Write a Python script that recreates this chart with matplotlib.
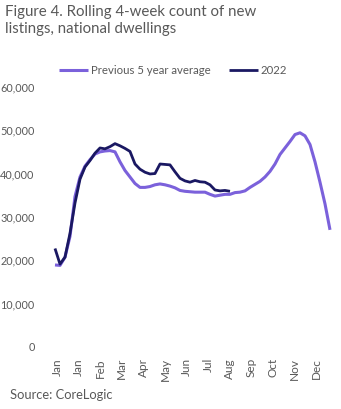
import numpy as np
import matplotlib.pyplot as plt

plt.rcParams['font.family'] = ['Lato', 'DejaVu Sans']

# weekly series (thousands of listings)
weeks_avg = np.arange(56)
avg_5yr = [18.7, 18.6, 20.5, 25.3, 34.5, 39.0, 41.5, 43.0, 44.3, 44.8,
           45.0, 45.1, 44.8, 42.5, 40.5, 39.0, 37.5, 36.6, 36.6, 36.8,
           37.2, 37.4, 37.2, 36.9, 36.5, 35.9, 35.7, 35.6, 35.5, 35.5,
           35.5, 35.0, 34.6, 34.8, 35.0, 35.0, 35.4, 35.5, 35.8, 36.6,
           37.3, 38.0, 39.0, 40.3, 42.0, 44.2, 45.7, 47.2, 48.8, 49.2,
           48.5, 46.5, 42.5, 37.8, 32.8, 26.8]
weeks_2022 = np.arange(36)
y2022 = [22.5, 18.9, 20.5, 26.0, 33.0, 38.5, 41.3, 42.8, 44.5, 45.7,
         45.5, 46.0, 46.7, 46.2, 45.6, 44.9, 42.0, 40.8, 40.1, 39.7,
         39.8, 42.0, 41.9, 41.8, 40.2, 38.7, 38.1, 37.8, 38.2, 37.9,
         37.8, 37.2, 36.0, 35.8, 35.9, 35.7]

month_labels = ['Jan', 'Jan', 'Feb', 'Mar', 'Apr', 'May', 'Jun', 'Jul',
                'Aug', 'Sep', 'Oct', 'Nov', 'Dec']
yticks = [0, 10000, 20000, 30000, 40000, 50000, 60000]

grey = '#595959'
c_avg = '#7b61db'
c_22 = '#1a1862'

fig = plt.figure(figsize=(3.41, 4.10), dpi=100)
ax = fig.add_axes([50/341, 1-347/410, 286/341, 260/410])

ax.plot(weeks_avg, np.array(avg_5yr)*1000, color=c_avg, lw=2.2,
        label='Previous 5 year average', solid_capstyle='butt')
ax.plot(weeks_2022, np.array(y2022)*1000, color=c_22, lw=2.0,
        label='2022', solid_capstyle='butt')

ax.set_ylim(0, 60000)
ax.set_xlim(-1, 56.2)
ax.set_yticks(yticks)
ax.set_yticklabels([f'{v:,}' for v in yticks], color=grey, fontsize=7.8)
ax.set_xticks([0.4 + 4.32*i for i in range(len(month_labels))])
ax.set_xticklabels(month_labels, rotation=90, color=grey, fontsize=8.5)
ax.tick_params(length=0, pad=8)
ax.tick_params(axis='y', pad=11)
for s in ax.spines.values():
    s.set_visible(False)

fig.legend(loc='center', bbox_to_anchor=(173/341, 1-71/410), ncol=2,
           frameon=False, fontsize=8.2, handlelength=2.6, handletextpad=0.2,
           columnspacing=1.6, labelcolor=grey)

fig.text(5/341, 1-5/410, 'Figure 4. Rolling 4-week count of new\nlistings, national dwellings',
         color=grey, fontsize=10.8, va='top', linespacing=1.25)
fig.text(10/341, 1-395/410, 'Source: CoreLogic', color=grey, fontsize=9.3,
         va='center')

fig.savefig('out.png', dpi=100)
